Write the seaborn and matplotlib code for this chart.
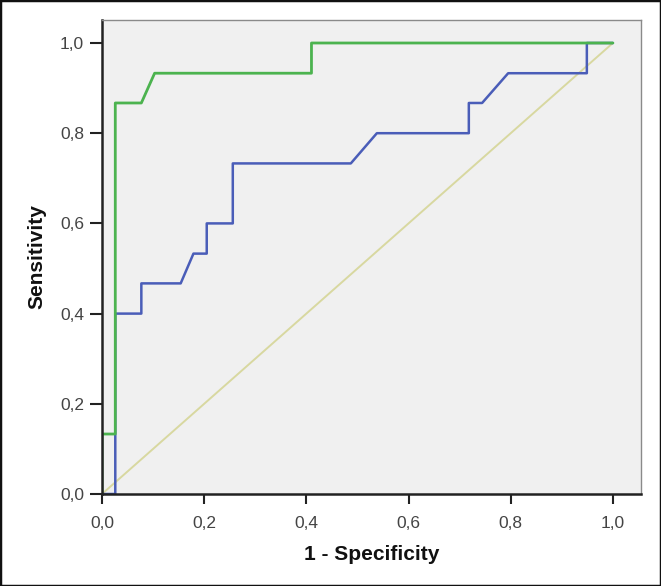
import matplotlib
matplotlib.use("Agg")
import matplotlib.pyplot as plt
import seaborn as sns
import pandas as pd
from matplotlib.patches import Rectangle

# ROC curve points (1 - specificity, sensitivity)
green_fpr = [0.0, 0.0, 0.026, 0.026, 0.077, 0.103, 0.410, 0.410, 1.0]
green_tpr = [0.0, 0.133, 0.133, 0.867, 0.867, 0.933, 0.933, 1.0, 1.0]

blue_fpr = [0.0, 0.026, 0.026, 0.077, 0.077, 0.154, 0.179, 0.205, 0.205, 0.256, 0.256,
            0.487, 0.538, 0.718, 0.718, 0.744, 0.795, 0.949, 0.949, 1.0]
blue_tpr = [0.0, 0.0, 0.400, 0.400, 0.467, 0.467, 0.533, 0.533, 0.600, 0.600, 0.733,
            0.733, 0.800, 0.800, 0.867, 0.867, 0.933, 0.933, 1.0, 1.0]

ref_x = [0.0, 1.0]
ref_y = [0.0, 1.0]

tick_vals = [0.0, 0.2, 0.4, 0.6, 0.8, 1.0]
tick_labels = ["0,0", "0,2", "0,4", "0,6", "0,8", "1,0"]

sns.set_style("white")
plt.rcParams['font.family'] = ['Liberation Sans', 'DejaVu Sans']

fig = plt.figure(figsize=(6.61, 5.86), dpi=100)
ax = fig.add_axes([102/661, 1 - 494/586, (641 - 102)/661, (494 - 20)/586])
ax.set_facecolor("#f0f0f0")

df_ref = pd.DataFrame({"x": ref_x, "y": ref_y})
df_blue = pd.DataFrame({"x": blue_fpr, "y": blue_tpr})
df_green = pd.DataFrame({"x": green_fpr, "y": green_tpr})

sns.lineplot(data=df_ref, x="x", y="y", sort=False, estimator=None, ax=ax,
             color="#d8d8a0", linewidth=1.4)
sns.lineplot(data=df_blue, x="x", y="y", sort=False, estimator=None, ax=ax,
             color="#4a5db8", linewidth=1.8)
sns.lineplot(data=df_green, x="x", y="y", sort=False, estimator=None, ax=ax,
             color="#4cb34f", linewidth=2.0)

ax.set_xlim(0, 1.055)
ax.set_ylim(0, 1.051)
ax.set_xticks(tick_vals)
ax.set_xticklabels(tick_labels)
ax.set_yticks(tick_vals)
ax.set_yticklabels(tick_labels)
ax.tick_params(axis="both", direction="out", width=1.5, color="#222222",
               labelsize=12.5, labelcolor="#444444", left=True, bottom=True)
ax.tick_params(axis="y", length=9, pad=4)
ax.tick_params(axis="x", length=7, pad=9)

for side in ["left", "bottom"]:
    ax.spines[side].set_color("#222222")
    ax.spines[side].set_linewidth(1.8)
for side in ["top", "right"]:
    ax.spines[side].set_visible(True)
    ax.spines[side].set_color("#8a8a8a")
    ax.spines[side].set_linewidth(1.0)

ax.set_xlabel("1 - Specificity", fontsize=15, fontweight="bold", labelpad=10,
              color="#111111")
ax.set_ylabel("Sensitivity", fontsize=15, fontweight="bold", labelpad=10,
              color="#111111")

fig.patches.append(Rectangle((0, 0), 1, 1, transform=fig.transFigure, fill=False,
                             edgecolor="#111111", linewidth=2.5))

fig.savefig("out.png", dpi=100)
